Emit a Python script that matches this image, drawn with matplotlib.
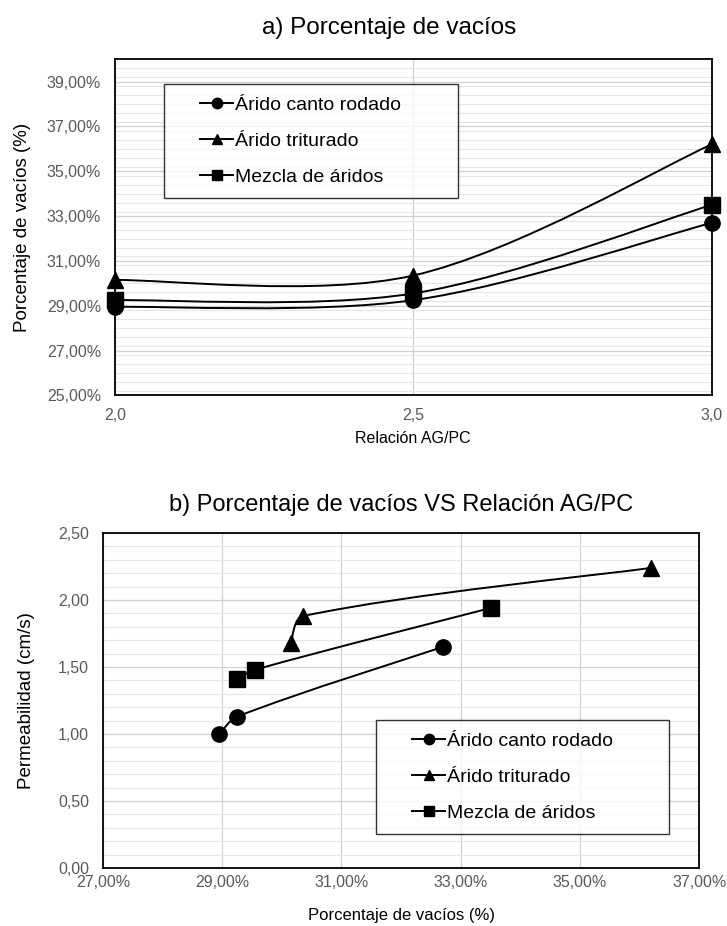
import numpy as np
import matplotlib
matplotlib.use("Agg")
from matplotlib import pyplot as plt
from matplotlib.path import Path
from matplotlib.patches import PathPatch
from matplotlib.lines import Line2D
from matplotlib.legend_handler import HandlerLine2D
from matplotlib.ticker import MultipleLocator, FuncFormatter

plt.rcParams['font.family'] = ['Liberation Sans', 'DejaVu Sans']

# Data
relacion = [2.0, 2.5, 3.0]
series_names = ["Árido canto rodado", "Árido triturado", "Mezcla de áridos"]
vacios_canto = [28.95, 29.25, 32.70]
vacios_triturado = [30.15, 30.35, 36.20]
vacios_mezcla = [29.25, 29.55, 33.50]
perm_canto = [1.00, 1.13, 1.65]
perm_triturado = [1.68, 1.88, 2.24]
perm_mezcla = [1.41, 1.48, 1.94]
markers = ['o', '^', 's']

vacios = [vacios_canto, vacios_triturado, vacios_mezcla]
perm = [perm_canto, perm_triturado, perm_mezcla]

tick_color = '#595959'
grid_major = '#d0d0d0'
grid_minor = '#e6e6e6'
W, H = 727, 926


# Excel-like smoothed line: bezier through the points, tangents weighted by
# segment lengths measured on screen (sx, sy = pixels per data unit)
def smooth_path(x, y, sx, sy):
    pts = np.column_stack([x, y]).astype(float)
    n = len(pts)

    def dist(a, b):
        return np.hypot((a[0] - b[0]) * sx, (a[1] - b[1]) * sy)

    verts = [pts[0]]
    codes = [Path.MOVETO]
    for i in range(n - 1):
        p1, p2 = pts[i], pts[i + 1]
        if i == 0:
            c1 = p1 + (p2 - p1) / 6
        else:
            p0 = pts[i - 1]
            d0, d1 = dist(p1, p0), dist(p2, p1)
            c1 = p1 + (p2 - p0) * d1 / (d0 + d1) / 3
        if i + 2 >= n:
            c2 = p2 - (p2 - p1) / 6
        else:
            p3 = pts[i + 2]
            d1, d2 = dist(p2, p1), dist(p3, p2)
            c2 = p2 - (p3 - p1) * d1 / (d1 + d2) / 3
        verts += [c1, c2, p2]
        codes += [Path.CURVE4] * 3
    return Path(verts, codes)


def style_axes(ax, xpad):
    ax.grid(True, which='major', color=grid_major, lw=0.9)
    ax.grid(True, which='minor', axis='y', color=grid_minor, lw=0.8)
    ax.set_axisbelow(True)
    for s in ax.spines.values():
        s.set_color('black')
        s.set_linewidth(1.3)
    ax.tick_params(which='both', length=0, colors=tick_color, labelsize=11.5)
    ax.tick_params(axis='y', pad=10)
    ax.tick_params(axis='x', pad=xpad)


def pct(v, pos):
    return ("%.2f%%" % v).replace('.', ',')


handles = [Line2D([], [], color='black', marker=m, ms=7.5, lw=1.4) for m in markers]
leg_kw = dict(loc='upper left', mode='expand', fontsize=14, frameon=True, fancybox=False,
              edgecolor='black', handlelength=2.95, handletextpad=0.1, labelspacing=0.95,
              borderpad=0.62, borderaxespad=0,
              handler_map={Line2D: HandlerLine2D(xpad=1.25)})

fig = plt.figure(figsize=(W / 100, H / 100), dpi=100)

# a) Porcentaje de vacios
pos1 = [0.158, 0.573, 0.821, 0.363]
ax1 = fig.add_axes(pos1)
ax1.set_xlim(2.0, 3.0)
ax1.set_ylim(25, 40)
sx1 = pos1[2] * W / 1.0
sy1 = pos1[3] * H / 15.0
for k in range(3):
    ax1.add_patch(PathPatch(smooth_path(relacion, vacios[k], sx1, sy1), fill=False, color='black', lw=1.4))
    ax1.plot(relacion, vacios[k], ls='none', marker=markers[k], color='black', ms=11, clip_on=False)
ax1.set_xticks([2.0, 2.5, 3.0])
ax1.set_yticks(np.arange(25, 40, 2))
ax1.yaxis.set_minor_locator(MultipleLocator(0.4))
ax1.xaxis.set_major_formatter(FuncFormatter(lambda v, p: ("%.1f" % v).replace('.', ',')))
ax1.yaxis.set_major_formatter(FuncFormatter(pct))
style_axes(ax1, 9)
ax1.set_xlabel("Relación AG/PC", fontsize=11.5, labelpad=6)
ax1.set_ylabel("Porcentaje de vacíos (%)", fontsize=13.5, labelpad=11)
ax1.set_title("a) Porcentaje de vacíos", fontsize=17.5, pad=18, x=0.46)

leg1 = ax1.legend(handles, series_names, bbox_to_anchor=(0.082, 0.0, 0.4925, 0.926), **leg_kw)
leg1.get_frame().set_linewidth(1.0)

# b) Porcentaje de vacios VS Relacion AG/PC
pos2 = [0.1417, 0.0626, 0.82, 0.3618]
ax2 = fig.add_axes(pos2)
ax2.set_xlim(27, 37)
ax2.set_ylim(0, 2.5)
sx2 = pos2[2] * W / 10.0
sy2 = pos2[3] * H / 2.5
for k in range(3):
    ax2.add_patch(PathPatch(smooth_path(vacios[k], perm[k], sx2, sy2), fill=False, color='black', lw=1.4))
    ax2.plot(vacios[k], perm[k], ls='none', marker=markers[k], color='black', ms=11, clip_on=False)
ax2.set_xticks(np.arange(27, 38, 2))
ax2.yaxis.set_major_locator(MultipleLocator(0.5))
ax2.yaxis.set_minor_locator(MultipleLocator(0.1))
ax2.xaxis.set_major_formatter(FuncFormatter(pct))
ax2.yaxis.set_major_formatter(FuncFormatter(lambda v, p: ("%.2f" % v).replace('.', ',')))
style_axes(ax2, 5)
ax2.set_xlabel("Porcentaje de vacíos (%)", fontsize=12, labelpad=13)
ax2.set_ylabel("Permeabilidad (cm/s)", fontsize=13.5, labelpad=17)
ax2.set_title("b) Porcentaje de vacíos VS Relación AG/PC", fontsize=17, pad=16, x=0.5)

leg2 = ax2.legend(handles, series_names, bbox_to_anchor=(0.458, 0.0, 0.4916, 0.4418), **leg_kw)
leg2.get_frame().set_linewidth(1.0)

fig.savefig("out.png", dpi=100, facecolor='white')
